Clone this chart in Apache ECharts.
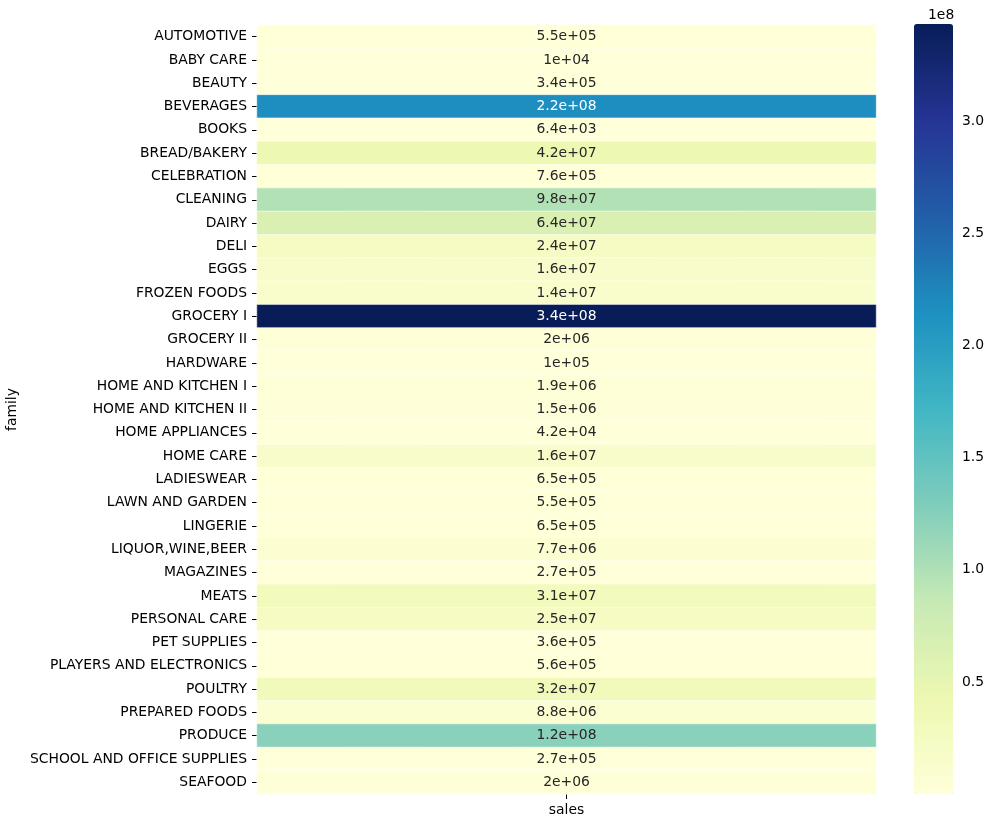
<!DOCTYPE html>
<html>
<head>
<meta charset="utf-8">
<script src="https://cdn.jsdelivr.net/npm/echarts@6/dist/echarts.min.js"></script>
<style>
html,body{margin:0;padding:0;background:#fff;}
#chart{width:994px;height:828px;}
</style>
</head>
<body>
<div id="chart"></div>
<script>
const families = ["AUTOMOTIVE","BABY CARE","BEAUTY","BEVERAGES","BOOKS","BREAD/BAKERY","CELEBRATION","CLEANING","DAIRY","DELI","EGGS","FROZEN FOODS","GROCERY I","GROCERY II","HARDWARE","HOME AND KITCHEN I","HOME AND KITCHEN II","HOME APPLIANCES","HOME CARE","LADIESWEAR","LAWN AND GARDEN","LINGERIE","LIQUOR,WINE,BEER","MAGAZINES","MEATS","PERSONAL CARE","PET SUPPLIES","PLAYERS AND ELECTRONICS","POULTRY","PREPARED FOODS","PRODUCE","SCHOOL AND OFFICE SUPPLIES","SEAFOOD"];
const columns = ["sales"];
const sales = [554822,10051,337893,216954486,6438,42133946,761177,97521289,64487709,24110322,15588120,14119233,343462735,1970020,103032,1887260,1520106,41601,16022590,650139,548489,651445,7716670,266225,31086468,24592052,355683,563195,31876004,8799999,122704685,266174,1961260];
const colorbarTicks = [5e7,1e8,1.5e8,2e8,2.5e8,3e8];
const colorbarOffset = "1e8";

const cmap = ["#ffffd9","#edf8b1","#c7e9b4","#7fcdbb","#41b6c4","#1d91c0","#225ea8","#253494","#081d58"];

const vmin = Math.min(...sales), vmax = Math.max(...sales);

function fmtG2(v){
  let s = v.toExponential(1);
  let [m, e] = s.split("e");
  let exp = parseInt(e,10);
  if (exp < -4 || exp >= 2){
    m = m.replace(/\.0$/,"");
    const sign = exp < 0 ? "-" : "+";
    const ae = Math.abs(exp);
    return m + "e" + sign + (ae < 10 ? "0" + ae : "" + ae);
  }
  return String(parseFloat(v.toPrecision(2)));
}
function hex2rgb(h){return [parseInt(h.slice(1,3),16),parseInt(h.slice(3,5),16),parseInt(h.slice(5,7),16)];}
function cmapColor(t){
  t = Math.max(0,Math.min(1,t));
  const p = t*(cmap.length-1);
  const i = Math.min(Math.floor(p), cmap.length-2);
  const f = p - i;
  const a = hex2rgb(cmap[i]), b = hex2rgb(cmap[i+1]);
  return a.map((x,k)=>(x+(b[k]-x)*f)/255);
}
function luminance(rgb){
  const c = rgb.map(x => x <= 0.03928 ? x/12.92 : Math.pow((x+0.055)/1.055,2.4));
  return 0.2126*c[0]+0.7152*c[1]+0.0722*c[2];
}

const data = sales.map((v,i)=>{
  const lum = luminance(cmapColor((v-vmin)/(vmax-vmin)));
  return {value:[0,i,v], label:{color: lum > 0.408 ? "#262626" : "#ffffff"}};
});

const FONT = "DejaVu Sans";
const FS = 13.9;
const chart = echarts.init(document.getElementById("chart"), null, {renderer:"canvas"});
chart.setOption({
  backgroundColor:"#fff",
  animation:false,
  textStyle:{fontFamily:FONT},
  grid:[
    {left:257, top:25, width:619, height:769, containLabel:false, outerBoundsMode:"none"},
    {left:914, top:24, width:39, height:770, containLabel:false, outerBoundsMode:"none"}
  ],
  xAxis:[
    {type:"category", data:columns, gridIndex:0, position:"bottom",
     axisLine:{show:false}, splitLine:{show:false},
     axisTick:{show:true, alignWithLabel:true, length:5, lineStyle:{color:"#000"}},
     axisLabel:{fontFamily:FONT, fontSize:FS, color:"#000", margin:9}},
    {type:"value", gridIndex:1, show:false}
  ],
  yAxis:[
    {type:"category", data:families, inverse:true, gridIndex:0,
     name:"family", nameLocation:"middle", nameGap:234, nameRotate:90,
     nameTextStyle:{fontFamily:FONT, fontSize:FS, color:"#000"},
     axisLine:{show:false}, splitLine:{show:false},
     axisTick:{show:true, alignWithLabel:true, length:5, lineStyle:{color:"#000"}},
     axisLabel:{fontFamily:FONT, fontSize:FS, color:"#000", margin:10, padding:[4,0,0,0]}},
    {type:"value", gridIndex:1, position:"right", min:vmin, max:vmax,
     axisLine:{show:false}, splitLine:{show:false},
     axisTick:{show:true, length:5, customValues:colorbarTicks, lineStyle:{color:"#000"}},
     axisLabel:{show:true, customValues:colorbarTicks, fontFamily:FONT, fontSize:FS, color:"#000", margin:9,
       padding:[4,0,0,0], formatter:(v)=> (v/1e8).toFixed(1)}}
  ],
  visualMap:{
    type:"continuous", min:vmin, max:vmax, seriesIndex:0, dimension:2,
    inRange:{color:cmap}, calculable:false, hoverLink:false,
    left:914, top:24, itemWidth:39, itemHeight:770, padding:0,
    text:null, showLabel:false
  },
  graphic:[
    {type:"text", left:928, top:8, style:{text:colorbarOffset, font:FS + "px 'DejaVu Sans'", fill:"#000"}}
  ],
  series:[{
    type:"heatmap", xAxisIndex:0, yAxisIndex:0, data:data,
    itemStyle:{borderColor:"#ffffff", borderWidth:0.5},
    label:{show:true, fontFamily:FONT, fontSize:FS, padding:[3,0,0,0], formatter:(p)=>fmtG2(p.value[2])},
    emphasis:{disabled:true}
  }]
});
</script>
</body>
</html>
